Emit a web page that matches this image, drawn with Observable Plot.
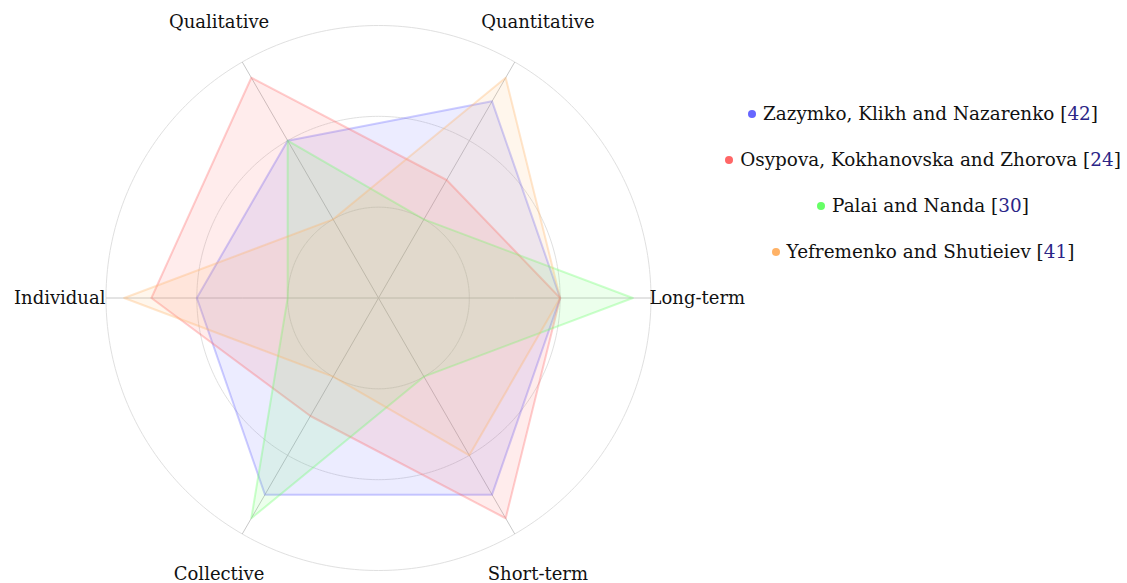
<!DOCTYPE html>
<html>
<head>
<meta charset="utf-8">
<script src="https://cdn.jsdelivr.net/npm/d3@7"></script>
<script src="https://cdn.jsdelivr.net/npm/@observablehq/plot@0.6"></script>
<style>
  body { margin: 0; background: #fff; font-family: "DejaVu Serif", serif; }
  #wrap { position: relative; width: 1127px; height: 583px; overflow: hidden; }
  #chart { position: absolute; left: 0; top: 0; }
  #legend { position: absolute; left: 673px; top: 91px; width: 500px; text-align: center; font-size: 18.4px; color: #111; }
  #legend .item { height: 46px; line-height: 46px; white-space: nowrap; }
  #legend .dot { display: inline-block; width: 8px; height: 8px; border-radius: 50%; margin-right: 7px; vertical-align: middle; position: relative; top: -1px; }
  #legend .ref { color: #2b2587; }
</style>
</head>
<body>
<div id="wrap"><div id="chart"></div><div id="legend"></div></div>
<script>
// Axes (counter-clockwise starting at the right)
const axes = ["Long-term", "Quantitative", "Qualitative", "Individual", "Collective", "Short-term"];
const seriesNames = [
  "Zazymko, Klikh and Nazarenko",
  "Osypova, Kokhanovska and Zhorova",
  "Palai and Nanda",
  "Yefremenko and Shutieiev"
];
const refs = [42, 24, 30, 41];
const colors = ["#6666ff", "#ff6666", "#66ff66", "#ffb266"];
// values per axis, same order as axes
const zazymko    = [2.0, 2.5, 2.0, 2.0, 2.5, 2.5];
const osypova    = [2.0, 1.5, 2.8, 2.5, 1.5, 2.8];
const palai      = [2.8, 1.0, 2.0, 1.0, 2.8, 1.0];
const yefremenko = [2.0, 2.8, 1.0, 2.8, 1.0, 2.0];
const rings = [1, 2, 3];
const maxValue = 3;
const labelValue = 3.51;

const seriesValues = [zazymko, osypova, palai, yefremenko];
const deg = 10; // degrees of arc per unit value
const lon = (key) => {
  let l = 90 + axes.indexOf(key) * 360 / axes.length;
  if (l > 180) l -= 360;
  return l;
};
const lat = (v) => 90 - v * deg;

const points = [];
seriesNames.forEach((name, s) => {
  axes.forEach((key, i) => points.push({name, key, value: seriesValues[s][i]}));
});

const width = 760, height = 583;
const chart = Plot.plot({
  width, height,
  marginLeft: 105.5, marginRight: width - 650.5, marginTop: 25, marginBottom: 13,
  projection: {
    type: "azimuthal-equidistant",
    rotate: [0, -90],
    clip: false,
    domain: d3.geoCircle().center([0, 90]).radius(maxValue * deg).precision(1)()
  },
  color: {domain: seriesNames, range: colors},
  style: {fontFamily: "DejaVu Serif", background: "white", overflow: "visible"},
  marks: [
    Plot.geo(rings, {
      geometry: (r) => d3.geoCircle().center([0, 90]).radius(r * deg).precision(1)(),
      stroke: "#e0e0e0", strokeWidth: 1, fill: "none"
    }),
    Plot.link(axes, {
      x1: (d) => lon(d), y1: () => lat(maxValue), x2: (d) => lon(d), y2: () => 90,
      stroke: "#c8c8c8", strokeWidth: 1
    }),
    Plot.line(points, {
      x: (d) => lon(d.key), y: (d) => lat(d.value), z: "name",
      fill: "name", stroke: "name",
      fillOpacity: 0.12, strokeOpacity: 0.33, strokeWidth: 2,
      curve: "linear-closed"
    }),
    Plot.text(axes, {
      x: (d) => lon(d), y: () => lat(labelValue), text: (d) => d,
      fontSize: 18, fill: "#111", textAnchor: "middle", fontFamily: "DejaVu Serif"
    })
  ]
});
document.getElementById("chart").appendChild(chart);

const legend = document.getElementById("legend");
seriesNames.forEach((name, i) => {
  const div = document.createElement("div");
  div.className = "item";
  div.innerHTML = `<span class="dot" style="background:${colors[i]}"></span>${name} [<span class="ref">${refs[i]}</span>]`;
  legend.appendChild(div);
});
</script>
</body>
</html>
